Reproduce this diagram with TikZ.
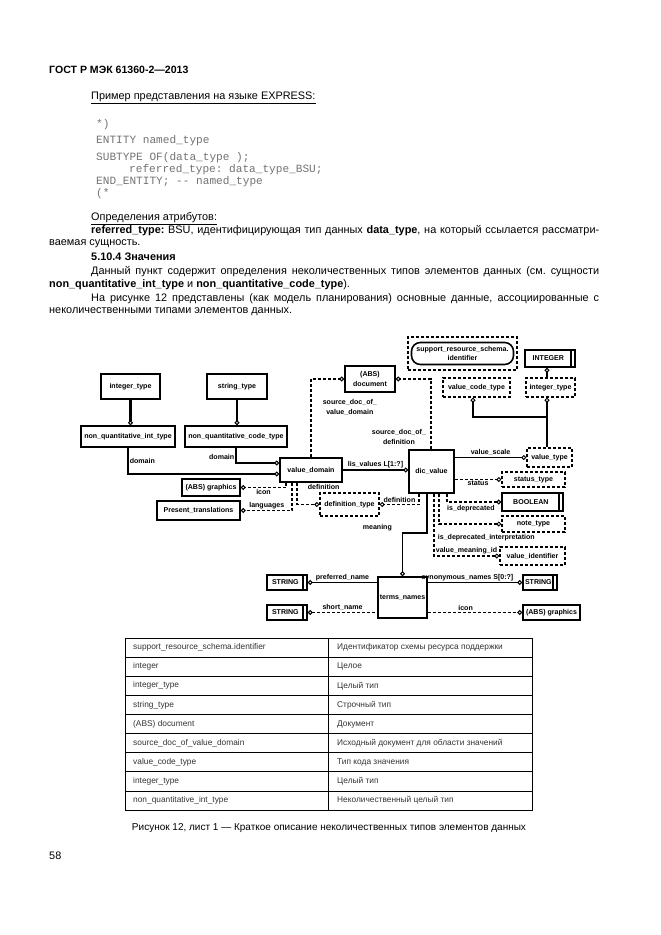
\documentclass[tikz,border=0pt]{standalone}
\usepackage{fontspec}
\setmainfont{Liberation Sans}
\setmonofont{Liberation Mono}
\usetikzlibrary{arrows.meta,calc}
\frenchspacing
\newcommand{\pxu}{0.9pt}
\newcommand{\lbl}{\fontsize{6.35}{8.6}\selectfont\bfseries}
\newcommand{\bodyf}{\fontsize{9.8}{11}\selectfont}
\newcommand{\codef}{\ttfamily\fontsize{10}{12}\selectfont}
\newcommand{\tabf}{\fontsize{7.5}{9}\selectfont}
\tikzset{
  sz/.style 2 args={minimum width=#1*\pxu, minimum height=#2*\pxu},
  ent/.style={draw, line width=1.6pt, fill=white, font=\lbl, inner sep=0pt, align=center},
  dbox/.style={draw, line width=1.4pt, dash pattern=on 2.7pt off 1.8pt, font=\lbl, inner sep=0pt, align=center},
  simple/.style={ent, path picture={\draw[line width=1.2pt]
      ($(path picture bounding box.north east)+(-4,0)$) -- ($(path picture bounding box.south east)+(-4,0)$);}},
  rel/.style={line width=1.2pt},
  drel/.style={line width=1.2pt, dash pattern=on 2.7pt off 1.8pt},
  sub/.style={line width=2.4pt, -{ring}},
  lab/.style={font=\lbl, inner sep=1pt, align=center},
  txt/.style={anchor=west, inner sep=0pt, font=\bodyf},
  code/.style={anchor=west, inner sep=0pt, font=\codef, text=black!55},
  ring/.tip={Circle[open, length=4.3pt, width=4.3pt, line width=0.9pt]},
}
\begin{document}
\begin{tikzpicture}[x=0.9pt, y=-0.9pt]
\path[use as bounding box, fill=white] (0,0) rectangle (661,935);

% page text
\node[txt, font=\fontsize{9.5}{11}\selectfont\bfseries] (hdr) at (49,70) {ГОСТ Р МЭК 61360-2—2013};
\node[txt] (ex) at (91,98) {\underline{Пример представления на языке EXPRESS:}};
\node[code] (c1) at (96,125) {*)};
\node[code] (c2) at (96,141) {ENTITY named\_type};
\node[code] (c3) at (96,158) {SUBTYPE OF(data\_type );};
\node[code] (c4) at (129,170) {referred\_type: data\_type\_BSU;};
\node[code] (c5) at (96,182) {END\_ENTITY; -{}- named\_type};
\node[code] (c6) at (96,194) {(*};
\node[txt] (attr) at (91,219) {\underline{Определения атрибутов:}};
\node[txt] (p1) at (91,231) {\makebox[457.2pt][s]{\textbf{referred\_type:} BSU, идентифицирующая тип данных \textbf{data\_type}, на который ссылается рассматри-}};
\node[txt] (p2) at (49,244) {ваемая сущность.};
\node[txt, font=\bodyf\bfseries] (sec) at (91,257) {5.10.4 Значения};
\node[txt] (p3) at (91,272) {\makebox[457.2pt][s]{Данный пункт содержит определения неколичественных типов элементов данных (см. сущности}};
\node[txt] (p4) at (49,285) {\textbf{non\_quantitative\_int\_type} и \textbf{non\_quantitative\_code\_type}).};
\node[txt] (p5) at (91,299) {\makebox[457.2pt][s]{На рисунке 12 представлены (как модель планирования) основные данные, ассоциированные с}};
\node[txt] (p6) at (49,312) {неколичественными типами элементов данных.};

% entities
\node[ent, sz={59}{25}] (itype) at (130.5,386.5) {integer\_type};
\node[ent, sz={60}{25}] (stype) at (237,386.5) {string\_type};
\node[ent, sz={94}{21}] (nqint) at (128,436.5) {non\_quantitative\_int\_type};
\node[ent, sz={102}{21}] (nqcode) at (236,436.5) {non\_quantitative\_code\_type};
\node[ent, sz={62}{24}] (vdom) at (311,470) {value\_domain};
\node[ent, sz={58}{17}] (gfx) at (211,487.5) {(ABS) graphics};
\node[ent, sz={83}{19}] (ptr) at (198.5,510.5) {Present\_translations};
\node[ent, sz={50}{26}] (doc) at (370,379) {(ABS)\\document};
\node[ent, sz={45}{43}] (dicv) at (431.5,471.5) {dic\_value};
\node[ent, sz={49}{41}] (tnames) at (402.5,597.5) {terms\_names};
\node[ent, sz={57}{15}] (gfxb) at (551.5,612.5) {(ABS) graphics};

% dashed entities
\node[dbox, sz={59}{23}] (dtype) at (349.5,504.5) {definition\_type};
\node[dbox, sz={67}{19}] (vctype) at (476.5,387.5) {value\_code\_type};
\node[dbox, sz={49}{19}] (itypeb) at (550.5,387.5) {integer\_type};
\node[dbox, sz={45}{19}] (vtype) at (549.5,457.5) {value\_type};
\node[dbox, sz={63}{15}] (sttype) at (533.5,479.5) {status\_type};
\node[dbox, sz={63}{16}] (ntype) at (533.5,524) {note\_type};
\node[dbox, sz={65}{18}] (vident) at (532.5,556) {value\_identifier};
\node[dbox, sz={109}{33}] (srs) at (462.5,353.5) {};
\node[draw, line width=1.4pt, rounded corners=8pt, sz={102}{22}, font=\lbl, align=center, inner sep=0pt] (srsid) at (srs) {support\_resource\_schema.\\identifier};

% simple types
\node[simple, sz={50}{17}] (intg) at (550,358.5) {INTEGER\hspace{3pt}};
\node[simple, sz={61}{18}] (bool) at (532.5,502) {BOOLEAN\hspace{3pt}};
\node[simple, sz={40}{15}] (strA) at (287,582.5) {STRING\hspace{3pt}};
\node[simple, sz={40}{15}] (strB) at (287,612.5) {STRING\hspace{3pt}};
\node[simple, sz={34}{15}] (strC) at (540,582.5) {STRING\hspace{3pt}};

% subtypes
\draw[sub] (itype.south) -- (itype.south |- nqint.north);
\draw[sub] (stype.south) -- (stype.south |- nqcode.north);

% value_domain
\draw[rel, -{ring}] (nqint.south) |- node[lab, pos=0.25, anchor=west] {domain} ($(vdom.west)+(0,4)$);
\draw[rel, -{ring}] (nqcode.south) |- node[lab, pos=0.3, anchor=east] {domain} ($(vdom.west)+(0,-7)$);
\draw[drel, -{ring}] ($(vdom.south west)+(7,0)$) |- node[lab, pos=0.75, anchor=north] {icon} (gfx.east);
\draw[drel, -{ring}] ($(vdom.south west)+(13,0)$) |- node[lab, pos=0.56, anchor=south east] {languages} (ptr.east);
\draw[drel, -{ring}] ($(vdom.south west)+(18,0)$) |- node[lab, pos=0.1, anchor=west, xshift=8pt] {definition} (dtype.west);
\draw[rel, -{ring}] (vdom.east) -- node[lab, above] {lis\_values L[1:?]} (vdom.east -| dicv.west);
\draw[drel, -{ring}] (vdom.north) |- node[lab, pos=0.32, anchor=west, xshift=9pt] {source\_doc\_of\_\\value\_domain} (doc.west);
\draw[drel, -{ring}] ($(dicv.north west)+(23,0)$) |- node[lab, pos=0.085, anchor=east, xshift=-3pt] {source\_doc\_of\_\\definition} (doc.east);

% support_resource_schema / integer
\coordinate (vjoin) at (547,417);
\draw[rel] ($(vctype.north)+(-4.5,0)$) -- ($(vctype.north)+(-4.5,0)$ |- srsid.south);
\draw[rel, -{ring}] (itypeb.north -| vjoin) -- (intg.south -| vjoin);
\draw[rel, {ring}-] ($(vctype.south)+(-3.5,0)$) |- (vjoin);
\draw[rel, -{ring}] (vtype.north -| vjoin) -- (itypeb.south -| vjoin);

% dic_value
\draw[rel, -{ring}] (vtype.west -| dicv.east) -- node[lab, above] {value\_scale} (vtype.west);
\draw[drel, -{ring}] (sttype.west -| dicv.east) -- node[lab, below] {status} (sttype.west);
\draw[drel, -{ring}] ($(dicv.south west)+(39,0)$) |- node[lab, pos=0.5, anchor=north west, xshift=-1.5pt, yshift=-1pt] {is\_deprecated} (bool.west);
\draw[drel, -{ring}] ($(dicv.south west)+(31,0)$) |- node[lab, pos=0.5, anchor=west, xshift=-2.7pt, yshift=-12.6pt] {is\_deprecated\_interpretation} (ntype.west);
\draw[drel, -{ring}] ($(dicv.south west)+(26,0)$) |- node[lab, pos=0.5, anchor=south west] {value\_meaning\_id} (vident.west);
\draw[drel, -{ring}] ($(dicv.south west)+(11,0)$) |- node[lab, pos=0.75, above] {definition} (dtype.east);
\draw[rel, -{ring}] ($(dicv.south west)+(19,0)$) -- ++(0,39) -| node[lab, pos=0.5, anchor=south east, xshift=-8pt] {meaning} (tnames.north);

% terms_names
\draw[rel, {ring}-] (strA.east) -- node[lab, above] {preferred\_name} (strA.east -| tnames.west);
\draw[drel, {ring}-] (strB.east) -- node[lab, above] {short\_name} (strB.east -| tnames.west);
\draw[rel, -{ring}] (strC.west -| tnames.east) -- node[lab, above, pos=0.42] {synonymous\_names S[0:?]} (strC.west);
\draw[drel, -{ring}] (gfxb.west -| tnames.east) -- node[lab, above, pos=0.4] {icon} (gfxb.west);

% table
\draw[line width=0.6pt] (125,638) rectangle (532,810);
\draw[line width=0.6pt] (328,638) -- (328,810);
\foreach \i in {1,...,8}
  \draw[line width=0.6pt] (125,{638+19.11*\i}) -- (532,{638+19.11*\i});
\foreach \a/\b [count=\i] in {support\_resource\_schema.identifier/Идентификатор схемы ресурса поддержки,
    integer/Целое, integer\_type/Целый тип, string\_type/Строчный тип, (ABS) document/Документ,
    source\_doc\_of\_value\_domain/Исходный документ для области значений,
    value\_code\_type/Тип кода значения, integer\_type/Целый тип,
    non\_quantitative\_int\_type/Неколичественный целый тип} {
  \node[anchor=west, inner sep=0pt, font=\tabf, text=black!80] (l\i) at (133,{638+19.11*(\i-0.5)}) {\a};
  \node[anchor=west, inner sep=0pt, font=\tabf, text=black!80] (r\i) at (337,{638+19.11*(\i-0.5)}) {\b};
}

\node[inner sep=0pt, font=\fontsize{9}{11}\selectfont] (cap) at (329,828) {Рисунок 12, лист 1 — Краткое описание неколичественных типов элементов данных};
\node[txt] (pg) at (49,856) {58};
\end{tikzpicture}
\end{document}
